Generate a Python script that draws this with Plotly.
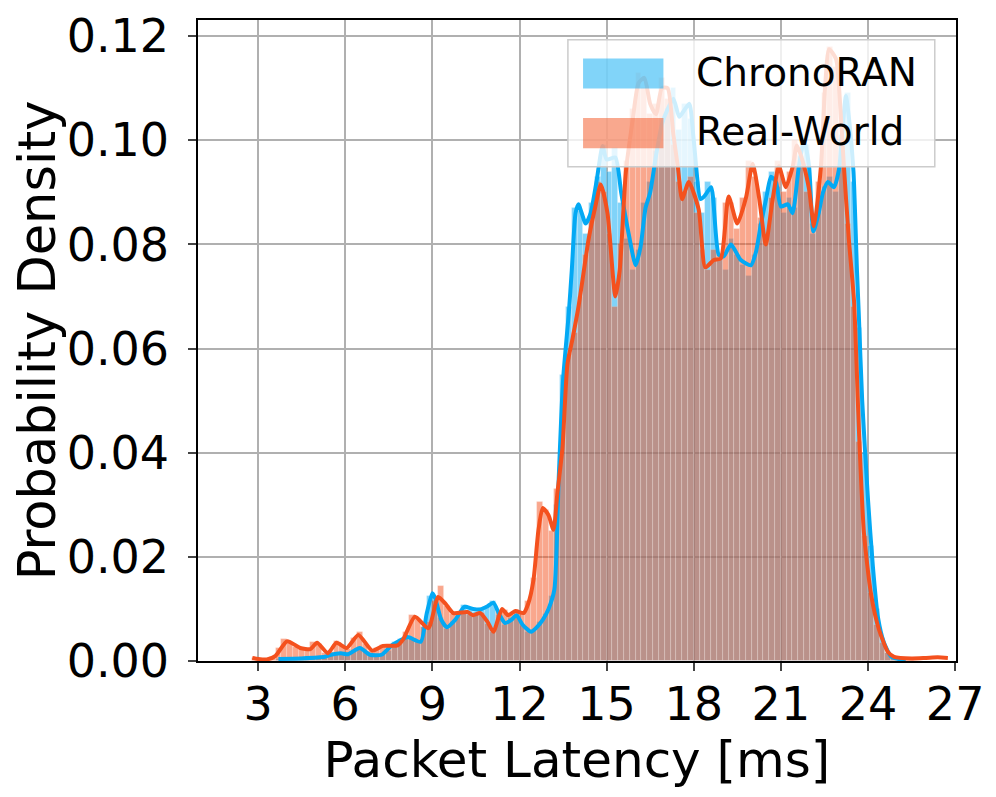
"""Packet latency density: ChronoRAN vs Real-World, histogram + KDE."""

import plotly.graph_objects as go

# histogram bins (0.2 ms wide, first center 2.9 ms)
bin_start = 2.9
bin_width = 0.2

chronoran_hist = [
    0, 0, 0, 0, 0.0004, 0.0005, 0.0006, 0.0005, 0.0007, 0.0006,
    0.0005, 0.0006, 0.0009, 0.0013, 0.0016, 0.0014, 0.0015, 0.0022, 0.0027, 0.0018,
    0.0012, 0.0011, 0.0012, 0.002, 0.0036, 0.0042, 0.0047, 0.0043, 0.0036, 0.0065,
    0.0125, 0.0118, 0.0082, 0.0062, 0.0075, 0.0092, 0.0108, 0.0098, 0.0094, 0.0102,
    0.0106, 0.0115, 0.0088, 0.007, 0.0082, 0.009, 0.0068, 0.0055, 0.006, 0.0075,
    0.009, 0.0125, 0.03, 0.055, 0.068, 0.087, 0.0865, 0.082, 0.088, 0.093,
    0.099, 0.094, 0.0985, 0.088, 0.081, 0.075, 0.079, 0.088, 0.092, 0.098,
    0.104, 0.106, 0.11, 0.102, 0.107, 0.104, 0.092, 0.086, 0.092, 0.089,
    0.077, 0.075, 0.081, 0.078, 0.076, 0.074, 0.078, 0.084, 0.09, 0.094,
    0.091, 0.086, 0.089, 0.087, 0.097, 0.099, 0.082, 0.087, 0.091, 0.093,
    0.09, 0.101, 0.109, 0.092, 0.064, 0.04, 0.022, 0.01, 0.0045, 0.0015,
    0.0006, 0.0003, 0, 0,
]

realworld_hist = [
    0.0006, 0.0003, 0.0002, 0.0008, 0.0025, 0.0042, 0.0036, 0.0027, 0.0024, 0.0022,
    0.0036, 0.0033, 0.0016, 0.0018, 0.0038, 0.003, 0.0024, 0.0045, 0.0055, 0.0032,
    0.002, 0.0025, 0.003, 0.0028, 0.003, 0.0036, 0.0055, 0.0088, 0.008, 0.0065,
    0.0075, 0.0115, 0.0145, 0.0105, 0.009, 0.0093, 0.0095, 0.0088, 0.009, 0.0092,
    0.0072, 0.0055, 0.0095, 0.0098, 0.0088, 0.0097, 0.009, 0.0115, 0.016, 0.0305,
    0.029, 0.025, 0.033, 0.045, 0.059, 0.063, 0.07, 0.078, 0.085, 0.092,
    0.09, 0.082, 0.068, 0.08, 0.096, 0.106, 0.113, 0.11, 0.105, 0.107,
    0.112, 0.108, 0.099, 0.092, 0.09, 0.093, 0.086, 0.079, 0.075, 0.079,
    0.078, 0.088, 0.088, 0.083, 0.089, 0.096, 0.093, 0.085, 0.081, 0.089,
    0.096, 0.09, 0.094, 0.1, 0.096, 0.09, 0.084, 0.092, 0.109, 0.118,
    0.114, 0.1, 0.084, 0.068, 0.042, 0.024, 0.013, 0.007, 0.0035, 0.0015,
    0.0008, 0.0006, 0.0005, 0.0005,
]

# KDE curves
chronoran_kde_x = [
    3.7, 4.5, 5.3, 5.5, 5.85, 6.1, 6.5, 6.85, 7.25, 7.6, 7.9, 8.15, 8.6, 8.8, 9.0,
    9.1, 9.3, 9.5, 9.8, 10.1, 10.4, 10.65, 10.9, 11.1, 11.3, 11.5, 11.7, 11.9,
    12.1, 12.4, 12.6, 12.8, 13.0, 13.2, 13.35, 13.5, 13.7, 13.8, 13.93, 14.03,
    14.28, 14.45, 14.65, 14.86, 15.0, 15.3, 15.5, 15.76, 16.0, 16.17, 16.34,
    16.5, 16.7, 16.9, 17.1, 17.3, 17.5, 17.7, 17.85, 18.0, 18.24, 18.4, 18.6,
    18.86, 19.03, 19.28, 19.62, 19.97, 20.14, 20.3, 20.5, 20.66, 20.83, 21.0,
    21.24, 21.4, 21.62, 21.8, 21.97, 22.12, 22.3, 22.45, 22.62, 22.83, 23.0,
    23.15, 23.24, 23.35, 23.5, 23.62, 23.68, 23.8, 24.0, 24.17, 24.34, 24.55,
    24.8, 25.03, 25.3,
]
chronoran_kde_y = [
    0.0004, 0.0005, 0.0008, 0.0012, 0.0015, 0.0013, 0.0025, 0.0012, 0.0012, 0.003,
    0.004, 0.0046, 0.0037, 0.009, 0.013, 0.012, 0.008, 0.0065, 0.008, 0.0104,
    0.01, 0.0099, 0.0105, 0.0112, 0.009, 0.0073, 0.0078, 0.0088, 0.007, 0.0056,
    0.0065, 0.0079, 0.01, 0.0137, 0.035, 0.054, 0.067, 0.075, 0.086, 0.0877,
    0.084, 0.086, 0.092, 0.0989, 0.0963, 0.0967, 0.09, 0.082, 0.076, 0.0796,
    0.087, 0.09, 0.097, 0.103, 0.106, 0.108, 0.1045, 0.106, 0.107, 0.1,
    0.0887, 0.0895, 0.091, 0.078, 0.0777, 0.08, 0.077, 0.076, 0.0785, 0.0835,
    0.089, 0.093, 0.092, 0.0873, 0.0877, 0.086, 0.095, 0.1, 0.095, 0.0825,
    0.086, 0.09, 0.092, 0.091, 0.0944, 0.104, 0.1085, 0.104, 0.094, 0.075,
    0.067, 0.05, 0.031, 0.018, 0.0085, 0.0035, 0.0008, 0.0004, 0.0001,
]

realworld_kde_x = [
    2.8, 3.0, 3.3, 3.6, 4.0, 4.45, 4.8, 5.03, 5.4, 5.7, 6.05, 6.45, 6.93, 7.3,
    7.8, 8.0, 8.4, 8.86, 9.2, 9.45, 9.72, 10.2, 10.4, 10.65, 10.9, 11.1, 11.4,
    11.6, 11.86, 12.14, 12.3, 12.48, 12.65, 12.8, 13.0, 13.17, 13.3, 13.48,
    13.65, 13.83, 14.03, 14.38, 14.6, 14.8, 15.03, 15.3, 15.45, 15.66, 15.9,
    16.1, 16.3, 16.5, 16.7, 16.9, 17.1, 17.3, 17.45, 17.6, 17.83, 18.17, 18.4,
    18.69, 18.93, 19.2, 19.5, 19.8, 20.03, 20.25, 20.48, 20.7, 20.93, 21.17,
    21.41, 21.55, 21.75, 21.97, 22.14, 22.38, 22.52, 22.66, 22.9, 23.05, 23.17,
    23.34, 23.52, 23.69, 23.86, 24.1, 24.38, 24.69, 24.9, 25.5, 26.0, 26.4,
    26.75,
]
realworld_kde_y = [
    0.0006, 0.0004, 0.0003, 0.001, 0.0038, 0.0025, 0.0023, 0.0035, 0.0015, 0.0035,
    0.0025, 0.005, 0.002, 0.0029, 0.003, 0.0042, 0.0085, 0.0063, 0.0123, 0.011,
    0.0092, 0.0094, 0.0088, 0.0092, 0.0075, 0.0056, 0.01, 0.0088, 0.0096, 0.0092,
    0.011, 0.0155, 0.025, 0.0294, 0.028, 0.0252, 0.032, 0.041, 0.057, 0.062,
    0.068, 0.081, 0.087, 0.0915, 0.086, 0.07, 0.075, 0.0938, 0.104, 0.111,
    0.112, 0.107, 0.105, 0.11, 0.11, 0.101, 0.095, 0.0887, 0.092, 0.0867,
    0.0756, 0.077, 0.0773, 0.0892, 0.084, 0.089, 0.0955, 0.089, 0.08, 0.088,
    0.095, 0.091, 0.095, 0.099, 0.096, 0.0906, 0.0835, 0.095, 0.11, 0.1175,
    0.1156, 0.106, 0.095, 0.081, 0.069, 0.044, 0.0246, 0.013, 0.006, 0.0017,
    0.0008, 0.0005, 0.0006, 0.0007, 0.0006,
]

x_ticks = [3, 6, 9, 12, 15, 18, 21, 24, 27]
y_ticks = [0.00, 0.02, 0.04, 0.06, 0.08, 0.10, 0.12]

BLUE = "#03A9F4"
ORANGE = "#F4511E"
FONT = "DejaVu Sans"

bin_centers = [round(bin_start + bin_width * i, 2) for i in range(len(chronoran_hist))]

fig = go.Figure()
fig.add_trace(go.Bar(x=bin_centers, y=chronoran_hist, width=bin_width,
                     marker=dict(color=BLUE, opacity=0.5,
                                 line=dict(color="rgba(255,255,255,0.35)", width=0.8)),
                     name="ChronoRAN", showlegend=False))
fig.add_trace(go.Bar(x=bin_centers, y=realworld_hist, width=bin_width,
                     marker=dict(color=ORANGE, opacity=0.5,
                                 line=dict(color="rgba(255,255,255,0.35)", width=0.8)),
                     name="Real-World", showlegend=False))
fig.add_trace(go.Scatter(x=chronoran_kde_x, y=chronoran_kde_y, mode="lines",
                         line=dict(color=BLUE, width=4, shape="spline", smoothing=0.6),
                         showlegend=False))
fig.add_trace(go.Scatter(x=realworld_kde_x, y=realworld_kde_y, mode="lines",
                         line=dict(color=ORANGE, width=4, shape="spline", smoothing=0.6),
                         showlegend=False))

# matplotlib-style legend box drawn by hand
legend_shapes = [
    dict(type="rect", xref="paper", yref="paper", x0=0.488, x1=0.972, y0=0.771, y1=0.969,
         fillcolor="rgba(255,255,255,0.8)", line=dict(color="#cccccc", width=1.5), layer="above"),
    dict(type="rect", xref="paper", yref="paper", x0=0.508, x1=0.614, y0=0.893, y1=0.940,
         fillcolor="rgba(3,169,244,0.5)", line=dict(width=0), layer="above"),
    dict(type="rect", xref="paper", yref="paper", x0=0.508, x1=0.614, y0=0.80, y1=0.847,
         fillcolor="rgba(244,81,30,0.5)", line=dict(width=0), layer="above"),
]
legend_labels = [
    dict(text="ChronoRAN", xref="paper", yref="paper", x=0.655, y=0.918,
         xanchor="left", yanchor="middle", showarrow=False,
         font=dict(family=FONT, size=39, color="black")),
    dict(text="Real-World", xref="paper", yref="paper", x=0.655, y=0.826,
         xanchor="left", yanchor="middle", showarrow=False,
         font=dict(family=FONT, size=39, color="black")),
]

# page body adds an 8px offset, so the figure is 8px smaller each way
fig.update_layout(
    width=988, height=789,
    margin=dict(l=190, r=40, t=12, b=136),
    barmode="overlay", bargap=0,
    plot_bgcolor="white", paper_bgcolor="white",
    font=dict(family=FONT, size=46, color="black"),
    shapes=legend_shapes, annotations=legend_labels,
)
fig.update_xaxes(
    range=[0.93, 27.03], tickvals=x_ticks, ticks="outside", ticklen=8, tickwidth=1.5,
    tickfont=dict(size=46), automargin=False, ticklabeloverflow="allow",
    ticklabelstandoff=-6,
    showline=True, linecolor="black", linewidth=1.5, mirror=True,
    showgrid=True, gridcolor="#b0b0b0", gridwidth=1.5, zeroline=False,
    title=dict(text="Packet Latency [ms]", font=dict(size=50), standoff=0),
)
fig.update_yaxes(
    range=[0, 0.1231], tickvals=y_ticks, tickformat=".2f", ticks="outside", ticklen=8,
    tickwidth=1.5, tickfont=dict(size=46), automargin=False, ticklabeloverflow="allow",
    ticklabelstandoff=10,
    showline=True, linecolor="black", linewidth=1.5, mirror=True,
    showgrid=True, gridcolor="#b0b0b0", gridwidth=1.5, zeroline=False,
    title=dict(text="Probability Density", font=dict(size=51), standoff=14),
)

fig.write_html("out.html")
